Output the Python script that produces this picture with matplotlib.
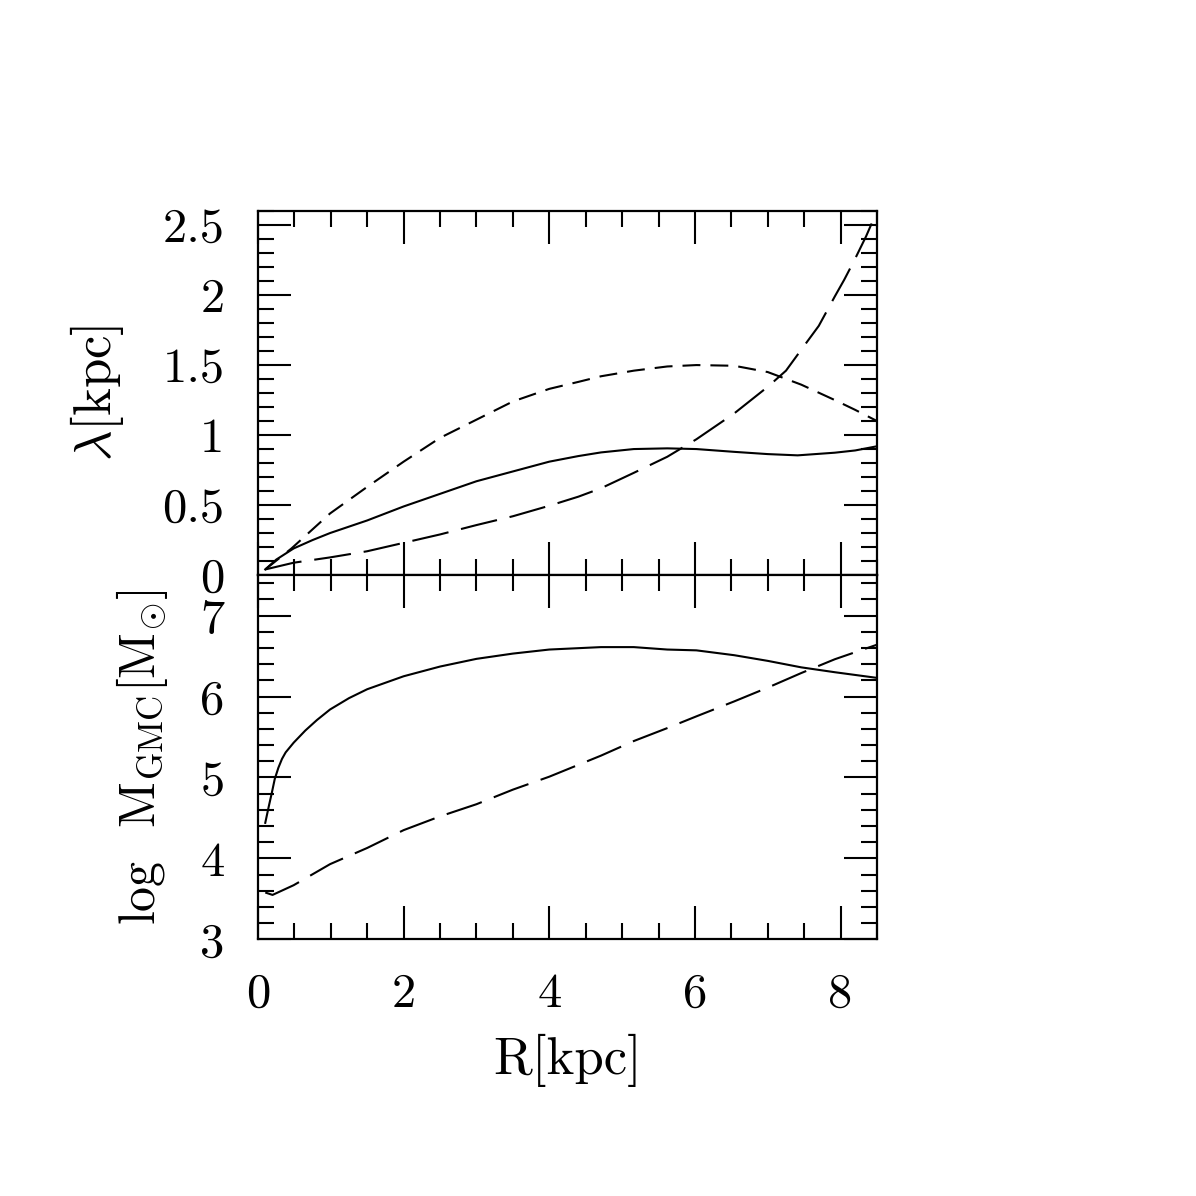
"""Two-panel radial profile: lambda(R) and log M_GMC(R)."""

import matplotlib

matplotlib.use("Agg")
import matplotlib.pyplot as plt
from matplotlib.ticker import MultipleLocator

plt.rcParams["font.family"] = ["cmr10", "DejaVu Serif"]
plt.rcParams["mathtext.fontset"] = "cm"
plt.rcParams["axes.formatter.use_mathtext"] = True

# top panel: lambda [kpc]
r_solid_top = [0.1, 0.25, 0.49, 0.75, 0.99, 1.5, 2.0, 2.5, 3.0, 3.5, 4.0, 4.4, 4.71, 5.16,
               5.62, 6.02, 6.54, 7.0, 7.41, 7.92, 8.2, 8.5]
lam_solid = [0.04, 0.11, 0.19, 0.25, 0.30, 0.39, 0.49, 0.58, 0.67, 0.74, 0.81, 0.85,
             0.876, 0.90, 0.905, 0.90, 0.88, 0.864, 0.855, 0.874, 0.89, 0.92]

r_short = [0.1, 0.46, 0.99, 1.5, 2.0, 2.5, 3.0, 3.5, 4.0, 4.4, 4.71, 5.16, 5.62, 6.02,
           6.54, 7.0, 7.46, 7.92, 8.2, 8.5]
lam_short = [0.04, 0.19, 0.44, 0.63, 0.81, 0.98, 1.11, 1.24, 1.33, 1.38, 1.42, 1.46,
             1.49, 1.50, 1.495, 1.45, 1.36, 1.25, 1.18, 1.10]

r_long_top = [0.1, 0.49, 0.99, 1.5, 2.0, 2.5, 3.0, 3.5, 4.0, 4.4, 4.71, 5.16, 5.62, 6.02,
              6.54, 7.0, 7.25, 7.46, 7.7, 7.92, 8.05, 8.19, 8.35, 8.5]
lam_long = [0.04, 0.088, 0.126, 0.17, 0.23, 0.29, 0.357, 0.42, 0.495, 0.56, 0.62, 0.73,
            0.845, 0.97, 1.155, 1.345, 1.46, 1.61, 1.78, 1.99, 2.11, 2.25, 2.42, 2.6]

# bottom panel: log M_GMC [M_sun]
r_solid_bot = [0.1, 0.15, 0.19, 0.23, 0.28, 0.33, 0.38, 0.49, 0.65, 0.81, 0.99, 1.25,
               1.5, 2.0, 2.5, 3.0, 3.5, 4.0, 4.71, 5.16, 5.62, 6.02, 6.54, 7.0, 7.46,
               7.92, 8.5]
m_solid = [4.44, 4.65, 4.81, 4.98, 5.12, 5.23, 5.31, 5.43, 5.58, 5.71, 5.84, 5.98,
           6.09, 6.25, 6.37, 6.465, 6.53, 6.58, 6.61, 6.61, 6.58, 6.57, 6.51, 6.44,
           6.36, 6.30, 6.23]

r_long_bot = [0.1, 0.2, 0.49, 0.99, 1.5, 2.0, 2.5, 3.0, 3.5, 4.0, 4.71, 5.16, 5.62, 6.02,
              6.54, 7.0, 7.46, 7.92, 8.5]
m_long = [3.58, 3.55, 3.67, 3.93, 4.13, 4.35, 4.52, 4.67, 4.85, 5.01, 5.27, 5.45, 5.61,
          5.755, 5.94, 6.11, 6.29, 6.46, 6.64]

LW = 1.5
LONG = (0, (17.8, 6.2))
SHORT = (0, (8.6, 4.8))

fig = plt.figure(figsize=(11.96, 11.96), dpi=100)
ax_top = fig.add_axes([0.2157, 0.5192, 0.5176, 0.3043])
ax_bot = fig.add_axes([0.2157, 0.2145, 0.5176, 0.3047], sharex=ax_top)

ax_top.plot(r_solid_top, lam_solid, color="black", lw=LW)
ax_top.plot(r_short, lam_short, color="black", lw=LW, linestyle=SHORT)
ax_top.plot(r_long_top, lam_long, color="black", lw=LW, linestyle=LONG)

ax_bot.plot(r_solid_bot, m_solid, color="black", lw=LW)
ax_bot.plot(r_long_bot, m_long, color="black", lw=LW, linestyle=LONG)

ax_top.set_xlim(0, 8.5)
ax_top.set_ylim(0, 2.6)
ax_bot.set_ylim(3, 7.5)

ax_top.yaxis.set_minor_locator(MultipleLocator(0.1))
ax_top.set_yticks([0, 0.5, 1, 1.5, 2, 2.5])
ax_top.set_yticklabels(["0", "0.5", "1", "1.5", "2", "2.5"])
ax_bot.yaxis.set_minor_locator(MultipleLocator(0.2))
ax_bot.set_yticks([3, 4, 5, 6, 7])
ax_bot.set_yticklabels(["3", "4", "5", "6", "7"])
ax_bot.xaxis.set_minor_locator(MultipleLocator(0.5))
ax_bot.set_xticks([0, 2, 4, 6, 8])
ax_bot.set_xticklabels(["0", "2", "4", "6", "8"])

for ax in (ax_top, ax_bot):
    for s in ax.spines.values():
        s.set_linewidth(1.6)
    ax.tick_params(which="both", direction="in", top=True, right=True,
                   width=1.5, labelsize=35, pad=24)
    ax.tick_params(which="major", length=23.5)
    ax.tick_params(which="minor", length=11.5)
ax_top.tick_params(axis="x", labelbottom=False)

ax_top.set_ylabel(r"$\lambda$[kpc]", fontsize=38, labelpad=26)
ax_bot.set_ylabel(r"log  M$_{\rm GMC}$[M$_{\odot}$]", fontsize=36, labelpad=22)
ax_bot.set_xlabel("R[kpc]", fontsize=38, labelpad=12)

fig.savefig("out.png", dpi=100)
